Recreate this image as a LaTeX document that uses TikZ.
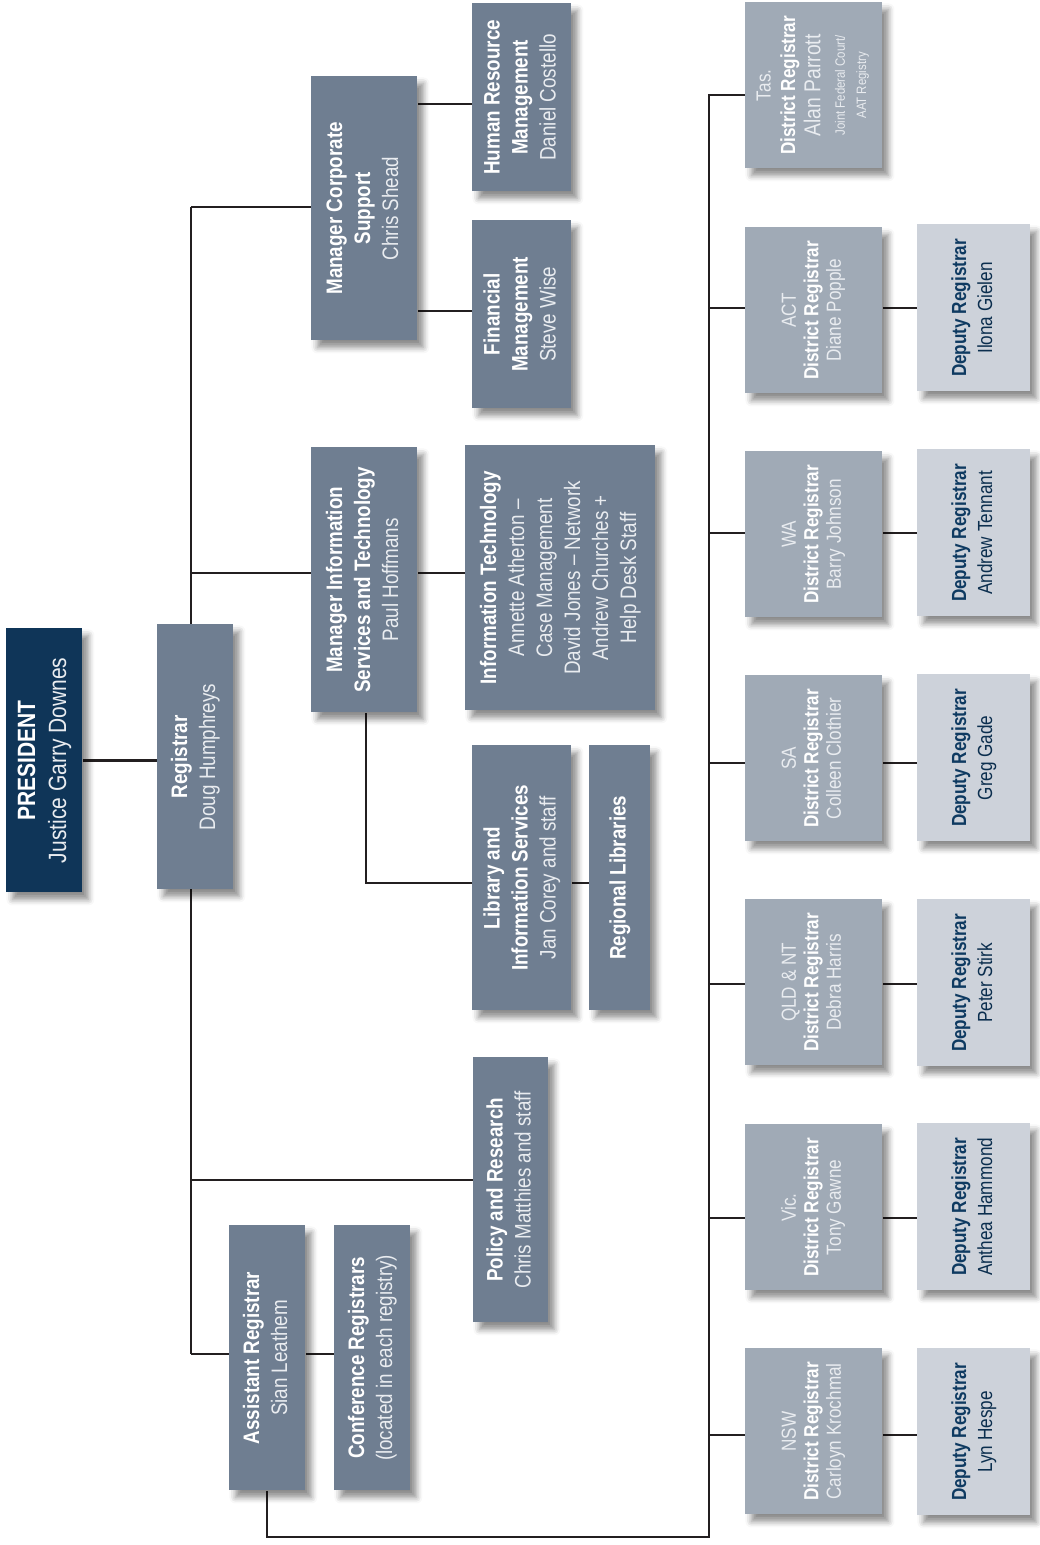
\documentclass[tikz,border=0pt]{standalone}
\usepackage{fontspec}
\setmainfont{Liberation Sans}[FakeStretch=0.84]
\usepackage{graphicx}
\usetikzlibrary{shadows.blur}
\definecolor{presblue}{HTML}{0F3558}
\definecolor{slate}{HTML}{6F7E91}
\definecolor{distgray}{HTML}{A0AAB6}
\definecolor{depgray}{HTML}{CDD2DA}
\definecolor{depblue}{HTML}{0E3A61}
\definecolor{linedark}{HTML}{231F20}
\definecolor{namewhite}{HTML}{E9ECF0}
\pgfdeclarelayer{bg}
\pgfsetlayers{bg,main}
\newcommand{\vlab}[1]{\rotatebox{90}{\begin{tabular}{@{}c@{}}#1\end{tabular}}}
\newcommand{\pname}[1]{{\color{namewhite}#1}}

\begin{document}
\begin{tikzpicture}[x=0.5pt, y=-0.5pt,
  every node/.style={inner sep=0pt, anchor=north west, text=white},
  sz/.style 2 args={minimum width=#1*0.5pt, minimum height=#2*0.5pt},
  box/.style={rectangle, blur shadow={shadow xshift=3pt, shadow yshift=-3.5pt, shadow blur radius=3pt, shadow opacity=45}},
  presbox/.style={box, fill=presblue, font=\fontsize{12.5}{15.5}\selectfont},
  unit/.style={box, fill=slate, font=\fontsize{11.2}{14}\selectfont},
  district/.style={box, fill=distgray, sz={137}{166}, font=\fontsize{10.2}{11.2}\selectfont},
  deputy/.style={box, fill=depgray, sz={113}{167}, text=depblue, font=\fontsize{10.2}{13}\selectfont},
  link/.style={draw=linedark, line width=1.25pt}]
\useasboundingbox (0,0) rectangle (1039,1545);
% head office
\node[presbox, sz={76}{264}] (pres) at (6,628) {\vlab{\textbf{PRESIDENT}\\ \pname{Justice Garry Downes}}};
\node[unit, sz={76}{265}] (reg) at (157,624) {\vlab{\textbf{Registrar}\\ \pname{Doug Humphreys}}};
\node[unit, sz={106}{264}] (mcs) at (311,76) {\vlab{\textbf{Manager Corporate}\\ \textbf{Support}\\ \pname{Chris Shead}}};
\node[unit, sz={99}{188}] (hrm) at (472,3) {\vlab{\textbf{Human Resource}\\ \textbf{Management}\\ \pname{Daniel Costello}}};
\node[unit, sz={99}{188}] (fm) at (472,220) {\vlab{\textbf{Financial}\\ \textbf{Management}\\ \pname{Steve Wise}}};
\node[unit, sz={106}{265}] (mist) at (311,447) {\vlab{\textbf{Manager Information}\\ \textbf{Services and Technology}\\ \pname{Paul Hoffmans}}};
\node[unit, sz={190}{265}] (itb) at (465,445) {\vlab{\textbf{Information Technology}\\ \pname{Annette Atherton --}\\ \pname{Case Management}\\ \pname{David Jones -- Network}\\ \pname{Andrew Churches +}\\ \pname{Help Desk Staff}}};
\node[unit, sz={99}{265}] (lib) at (472,745) {\vlab{\textbf{Library and}\\ \textbf{Information Services}\\ \pname{Jan Corey and staff}}};
\node[unit, sz={61}{265}] (regl) at (589,745) {\vlab{\textbf{Regional Libraries}}};
\node[unit, sz={75}{265}] (pol) at (473,1057) {\vlab{\textbf{Policy and Research}\\ \pname{Chris Matthies and staff}}};
\node[unit, sz={76}{265}] (asr) at (229,1225) {\vlab{\textbf{Assistant Registrar}\\ \pname{Sian Leathem}}};
\node[unit, sz={76}{265}] (conf) at (334,1225) {\vlab{\textbf{Conference Registrars}\\ \pname{(located in each registry)}}};
% district registries
\node[district] (tas) at (745,2) {\vlab{\pname{Tas.}\\[1pt] \textbf{District Registrar}\\[1pt] {\fontsize{11.5}{12}\selectfont\pname{Alan Parrott}}\\[1pt] {\fontsize{6.8}{8}\selectfont\pname{Joint Federal Court/}}\\[-0.5pt] {\fontsize{6.8}{8}\selectfont\pname{AAT Registry}}}};
\foreach \n/\yy/\st/\who in {act/227/ACT/Diane Popple, wa/451/WA/Barry Johnson, sa/675/SA/Colleen Clothier,
    qld/899/QLD \& NT/Debra Harris, vic/1124/Vic./Tony Gawne, nsw/1348/NSW/Carloyn Krochmal}
  \node[district] (\n) at (745,\yy) {\vlab{\pname{\st}\\ \textbf{District Registrar}\\ \pname{\who}}};
\foreach \n/\yy/\who in {act/224/Ilona Gielen, wa/449/Andrew Tennant, sa/674/Greg Gade,
    qld/899/Peter Stirk, vic/1123/Anthea Hammond, nsw/1348/Lyn Hespe}
  \node[deputy] (d\n) at (917,\yy) {\vlab{\textbf{Deputy Registrar}\\ \color{depblue!80!black}\who}};
% connectors
\begin{pgfonlayer}{bg}
\coordinate (trtop) at (191,207);
\coordinate (trbot) at (191,1354);
\coordinate (jhr) at (444,104);
\coordinate (jfm) at (444,311);
\coordinate (jit) at (191,573);
\coordinate (jlib) at (366,883);
\coordinate (jpol) at (191,1180);
\coordinate (jbl) at (267,1537);
\coordinate (jbr) at (709,1537);
\coordinate (jtas) at (709,95);
\draw[link] (pres.east) -- (pres.east -| reg.west);
\draw[link] (trtop) -- (trbot);
\draw[link] (trtop) -- (mcs.west |- trtop);
\draw[link] (mcs.east |- jhr) -- (hrm.west |- jhr);
\draw[link] (mcs.east |- jfm) -- (fm.west |- jfm);
\draw[link] (jit) -- (mist.west |- jit);
\draw[link] (mist.east |- jit) -- (itb.west |- jit);
\draw[link] (jlib |- mist.south) -- (jlib) -- (lib.west |- jlib);
\draw[link] (lib.east |- jlib) -- (regl.west |- jlib);
\draw[link] (jpol) -- (pol.west |- jpol);
\draw[link] (trbot) -- (asr.west |- trbot);
\draw[link] (asr.east |- trbot) -- (conf.west |- trbot);
\draw[link] (jbl |- asr.south) -- (jbl) -- (jbr) -- (jtas) -- (tas.west |- jtas);
\foreach \n/\yy in {act/308, wa/533, sa/763, qld/984, vic/1218, nsw/1435}{
  \coordinate (c\n) at (709,\yy);
  \draw[link] (c\n) -- (\n.west |- c\n);
  \draw[link] (\n.east |- c\n) -- (d\n.west |- c\n);
}
\end{pgfonlayer}
\end{tikzpicture}
\end{document}
